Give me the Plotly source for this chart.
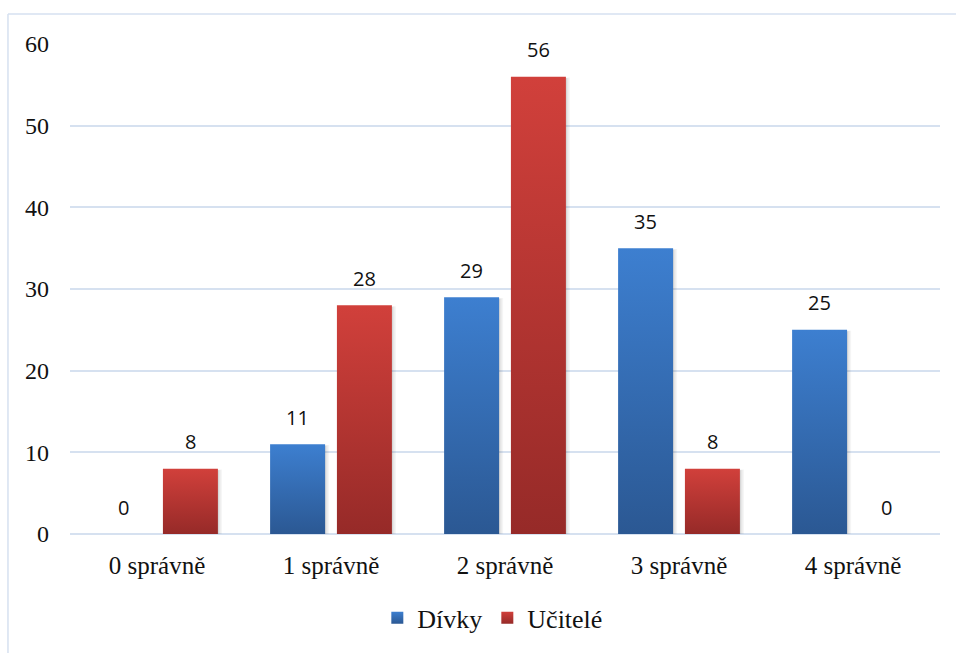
import plotly.graph_objects as go

# Data
categories = ["0 správně", "1 správně", "2 správně", "3 správně", "4 správně"]
divky = [0, 11, 29, 35, 25]
ucitele = [8, 28, 56, 8, 0]
series_names = ["Dívky", "Učitelé"]
y_ticks = [0, 10, 20, 30, 40, 50, 60]

# Styling
BAR_W = 0.316      # bar width in category units
HALF_GAP = 0.034   # half of the gap between the paired bars
PX_X = 1 / 174     # one pixel in category units
PX_Y = 60 / 492    # one pixel in value units
blue_light, blue_dark = "#3d7fd0", "#2b5893"
red_light, red_dark = "#d1403b", "#962a28"
grid_color = "#d6e1f0"
serif = "Liberation Serif"
sans = "Open Sans"

fig = go.Figure()


def bar_edges(i, side):
    if side < 0:
        return i - HALF_GAP - BAR_W, i - HALF_GAP
    return i + HALF_GAP, i + HALF_GAP + BAR_W


def add_shadows(values, side):
    # soft drop shadow: a few stacked translucent rectangles offset to the right
    for i, v in enumerate(values):
        if v <= 0:
            continue
        x0, x1 = bar_edges(i, side)
        for grow, alpha in [(4, 0.05), (2.5, 0.07), (1, 0.10)]:
            xa, xb = x0 + PX_X, x1 + grow * PX_X
            top = v - (2 - grow * 0.3) * PX_Y
            fig.add_trace(go.Scatter(
                x=[xa, xb, xb, xa, xa], y=[0, 0, top, top, 0],
                mode="lines", line=dict(width=0), fill="toself",
                fillcolor=f"rgba(60,60,60,{alpha})",
                hoverinfo="skip", showlegend=False,
            ))


def add_bars(values, side, light, dark, name):
    for i, v in enumerate(values):
        if v <= 0:
            continue
        x0, x1 = bar_edges(i, side)
        fig.add_trace(go.Scatter(
            x=[x0, x1, x1, x0, x0],
            y=[0, 0, v, v, 0],
            mode="lines",
            line=dict(width=0),
            fill="toself",
            fillgradient=dict(type="vertical",
                              colorscale=[[0, dark], [1, light]]),
            hoverinfo="skip",
            showlegend=False,
            name=name,
        ))


add_shadows(divky, -1)
add_shadows(ucitele, 1)
add_bars(divky, -1, blue_light, blue_dark, series_names[0])
add_bars(ucitele, 1, red_light, red_dark, series_names[1])

# Legend entries
for name, light, dark in [(series_names[0], blue_light, blue_dark),
                          (series_names[1], red_light, red_dark)]:
    fig.add_trace(go.Scatter(
        x=[None], y=[None], mode="markers", name=name,
        marker=dict(symbol="square", size=14, color=light,
                    gradient=dict(type="vertical", color=dark)),
    ))

# Value labels above bars
for i, (a, b) in enumerate(zip(divky, ucitele)):
    for v, xc in [(a, i - HALF_GAP - BAR_W / 2), (b, i + HALF_GAP + BAR_W / 2)]:
        fig.add_annotation(x=xc, y=v, text=str(v), showarrow=False,
                           yshift=27, font=dict(family=sans, size=20, color="#111"))

# Chart frame
fig.add_shape(type="line", xref="paper", yref="paper",
              x0=-0.0713, x1=1.05, y0=1.061, y1=1.061,
              line=dict(color="#d6e1f0", width=1.5))
fig.add_shape(type="line", xref="paper", yref="paper",
              x0=-0.0713, x1=-0.0713, y0=1.061, y1=-0.3,
              line=dict(color="#d6e1f0", width=1.5))

fig.update_layout(
    width=956, height=653,
    margin=dict(l=70, r=16, t=44, b=117),
    paper_bgcolor="white", plot_bgcolor="white",
    showlegend=True,
    legend=dict(orientation="h", x=0.486, xanchor="center",
                y=-0.171, yanchor="middle",
                font=dict(family=serif, size=26, color="#111"),
                itemsizing="constant", itemwidth=30),
    xaxis=dict(range=[-0.5, 4.5], tickvals=list(range(len(categories))),
               ticktext=categories, showgrid=False, zeroline=False,
               showline=False, ticks="",
               tickfont=dict(family=serif, size=25, color="#111"),
               ticklabelstandoff=14, fixedrange=True),
    yaxis=dict(range=[0, 60], tickvals=y_ticks, showgrid=True,
               gridcolor=grid_color, gridwidth=1.5, zeroline=True,
               zerolinecolor=grid_color, zerolinewidth=1.5, showline=False,
               ticks="", tickfont=dict(family=serif, size=24, color="#111"),
               ticklabelstandoff=20, fixedrange=True),
)

fig.write_html("out.html")
